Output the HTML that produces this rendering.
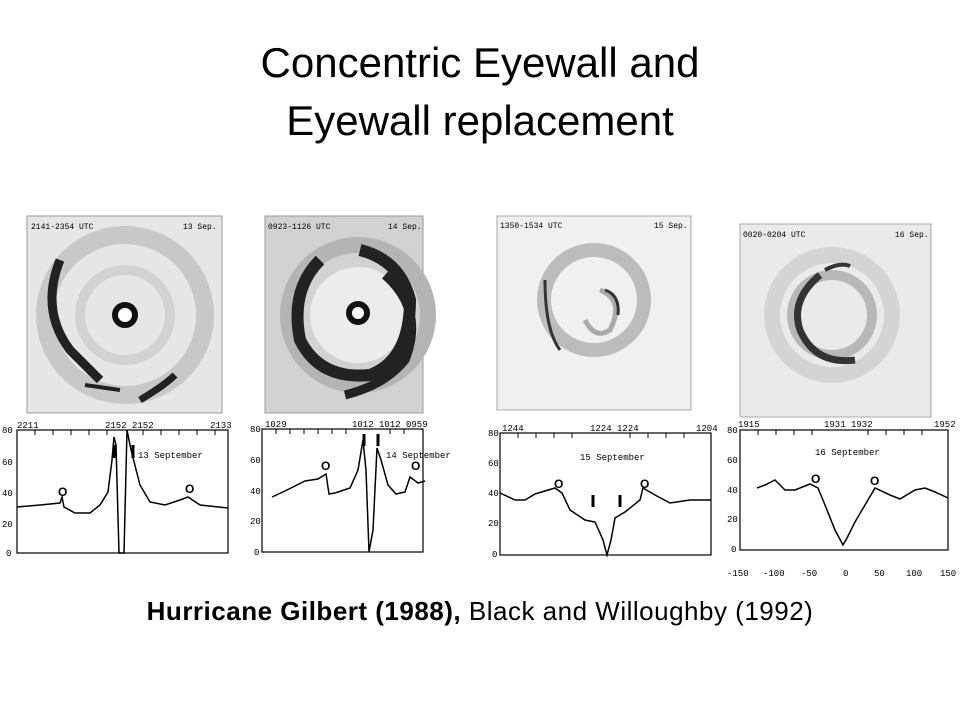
<!DOCTYPE html>
<html><head><meta charset="utf-8"><style>
body{margin:0;background:#fff;width:960px;height:720px;overflow:hidden;font-family:"Liberation Sans",sans-serif}
.t{position:absolute;left:0;width:960px;text-align:center;color:#000}
</style></head><body>
<div class="t" style="top:34px;font-size:42px;line-height:58px">Concentric Eyewall and<br>Eyewall replacement</div>
<svg width="960" height="720" style="position:absolute;left:0;top:0" font-family="Liberation Mono, monospace">
<rect x="27" y="216" width="195" height="197" fill="#e6e6e6" stroke="#999"/>
<circle cx="125" cy="315" r="80" fill="none" stroke="#c8c8c8" stroke-width="18"/>
<circle cx="125" cy="315" r="45" fill="none" stroke="#d2d2d2" stroke-width="10"/>
<path d="M60 260 Q40 310 70 350 Q90 370 100 380" fill="none" stroke="#222" stroke-width="9"/>
<path d="M85 385 L120 390" stroke="#222" stroke-width="4"/>
<path d="M140 400 Q165 385 175 375" stroke="#222" stroke-width="7" fill="none"/>
<circle cx="125" cy="315" r="10" fill="#fff" stroke="#111" stroke-width="6"/>
<text x="31" y="229" font-size="8">2141-2354 UTC</text><text x="183" y="229" font-size="8">13 Sep.</text>
<rect x="265" y="216" width="158" height="197" fill="#d2d2d2" stroke="#999"/>
<circle cx="358" cy="315" r="70" fill="none" stroke="#b4b4b4" stroke-width="16"/>
<circle cx="358" cy="315" r="48" fill="#ececec"/>
<path d="M320 260 Q290 290 300 340 Q320 380 370 375 Q410 360 410 300 Q400 260 360 250" fill="none" stroke="#222" stroke-width="12"/>
<path d="M385 275 Q425 310 405 360 Q385 385 345 395" fill="none" stroke="#222" stroke-width="9"/>
<circle cx="358" cy="313" r="9" fill="#fff" stroke="#111" stroke-width="6"/>
<text x="268" y="229" font-size="8">0923-1126 UTC</text><text x="388" y="229" font-size="8">14 Sep.</text>
<rect x="497" y="216" width="194" height="194" fill="#f0f0f0" stroke="#aaa"/>
<circle cx="594" cy="300" r="50" fill="none" stroke="#bcbcbc" stroke-width="14"/>
<path d="M545 280 Q545 330 560 350" fill="none" stroke="#333" stroke-width="3"/>
<path d="M600 290 Q625 300 610 330 Q595 340 585 320" fill="none" stroke="#aaa" stroke-width="5"/>
<path d="M605 290 Q620 295 618 315" fill="none" stroke="#333" stroke-width="3"/>
<text x="500" y="228" font-size="8">1350-1534 UTC</text><text x="654" y="228" font-size="8">15 Sep.</text>
<rect x="740" y="224" width="191" height="193" fill="#eaeaea" stroke="#aaa"/>
<circle cx="832" cy="315" r="60" fill="none" stroke="#d4d4d4" stroke-width="16"/>
<circle cx="832" cy="315" r="40" fill="none" stroke="#b8b8b8" stroke-width="10"/>
<path d="M820 275 Q790 300 800 330 Q815 365 855 360" fill="none" stroke="#333" stroke-width="7"/>
<path d="M825 270 Q840 262 850 266" fill="none" stroke="#333" stroke-width="4"/>
<text x="743" y="237" font-size="8">0020-0204 UTC</text><text x="895" y="237" font-size="8">16 Sep.</text>
<g fill="none" stroke="#000" stroke-width="1.2">
<rect x="17" y="430" width="211" height="123"/>
<rect x="262" y="429" width="161" height="123"/>
<rect x="500" y="433" width="211" height="122"/>
<rect x="740" y="430" width="208" height="120"/>
<polyline stroke-width="1.5" points="17,507 40,505 60,503 62,497 64,507 75,513 90,513 100,505 108,492 112,460 114,437 116,445 119,553 124,553 127,430 131,450 140,485 150,502 165,505 180,500 188,497 200,505 228,508"/>
<polyline stroke-width="1.5" points="272,497 285,491 295,486 305,481 318,479 326,474 329,494 335,493 350,488 358,470 363,440 366,470 369,552 373,530 377,448 381,460 388,485 396,494 405,492 410,477 418,483 425,481"/>
<polyline stroke-width="1.5" points="500,493 515,500 525,500 535,494 555,488 562,493 570,510 585,520 595,522 603,540 607,555 611,540 615,518 625,512 640,500 643,488 655,495 670,503 690,500 711,500"/>
<polyline stroke-width="1.5" points="757,488 765,485 775,480 785,490 795,490 810,484 818,488 825,505 835,530 843,545 847,538 855,522 865,505 875,488 890,495 900,499 915,490 925,488 935,492 948,498"/>
</g>
<g stroke="#000" stroke-width="1">
<path d="M35 430v5M53 430v5M71 430v5M89 430v5M107 430v5M143 430v5M161 430v5M179 430v5M197 430v5M215 430v5"/>
<path d="M276 429v5M290 429v5M304 429v5M318 429v5M332 429v5M346 429v5M390 429v5M404 429v5"/>
<path d="M518 433v5M536 433v5M554 433v5M572 433v5M630 433v5M648 433v5M666 433v5M684 433v5"/>
<path d="M758 430v5M776 430v5M794 430v5M812 430v5M868 430v5M886 430v5M904 430v5M922 430v5"/>
</g>
<g font-size="9" fill="#000">
<text x="2" y="433">80</text><text x="2" y="465">60</text><text x="2" y="496">40</text><text x="2" y="527">20</text><text x="6" y="556">0</text>
<text x="250" y="432">80</text><text x="250" y="463">60</text><text x="250" y="494">40</text><text x="250" y="524">20</text><text x="254" y="555">0</text>
<text x="488" y="436">80</text><text x="488" y="466">60</text><text x="488" y="496">40</text><text x="488" y="526">20</text><text x="492" y="557">0</text>
<text x="727" y="433">80</text><text x="727" y="463">60</text><text x="727" y="493">40</text><text x="727" y="522">20</text><text x="731" y="552">0</text>
<text x="17" y="428">2211</text><text x="105" y="428">2152 2152</text><text x="210" y="428">2133</text>
<text x="265" y="427">1029</text><text x="352" y="427">1012 1012</text><text x="406" y="427">0959</text>
<text x="502" y="431">1244</text><text x="590" y="431">1224 1224</text><text x="696" y="431">1204</text>
<text x="738" y="427">1915</text><text x="824" y="427">1931 1932</text><text x="934" y="427">1952</text>
<text x="138" y="458">13 September</text><text x="386" y="458">14 September</text>
<text x="580" y="460">15 September</text><text x="815" y="455">16 September</text>
<text x="727" y="576">-150</text><text x="763" y="576">-100</text><text x="801" y="576">-50</text><text x="843" y="576">0</text><text x="874" y="576">50</text><text x="906" y="576">100</text><text x="940" y="576">150</text>
</g>
<g font-size="12" font-weight="bold" font-family="Liberation Sans,sans-serif">
<text x="58" y="496">O</text><text x="185" y="493">O</text><text x="321" y="470">O</text><text x="411" y="470">O</text>
<text x="554" y="488">O</text><text x="640" y="488">O</text><text x="811" y="483">O</text><text x="870" y="485">O</text>
</g>
<g stroke="#000" stroke-width="3">
<line x1="114" y1="445" x2="114" y2="458"/><line x1="133" y1="445" x2="133" y2="458"/>
<line x1="364" y1="434" x2="364" y2="446"/><line x1="378" y1="434" x2="378" y2="446"/>
<line x1="593" y1="495" x2="593" y2="507"/><line x1="620" y1="495" x2="620" y2="507"/>
</g>
</svg>
<div class="t" style="top:596px;font-size:26px;letter-spacing:0.5px"><b>Hurricane Gilbert (1988),</b> Black and Willoughby (1992)</div>
</body></html>
